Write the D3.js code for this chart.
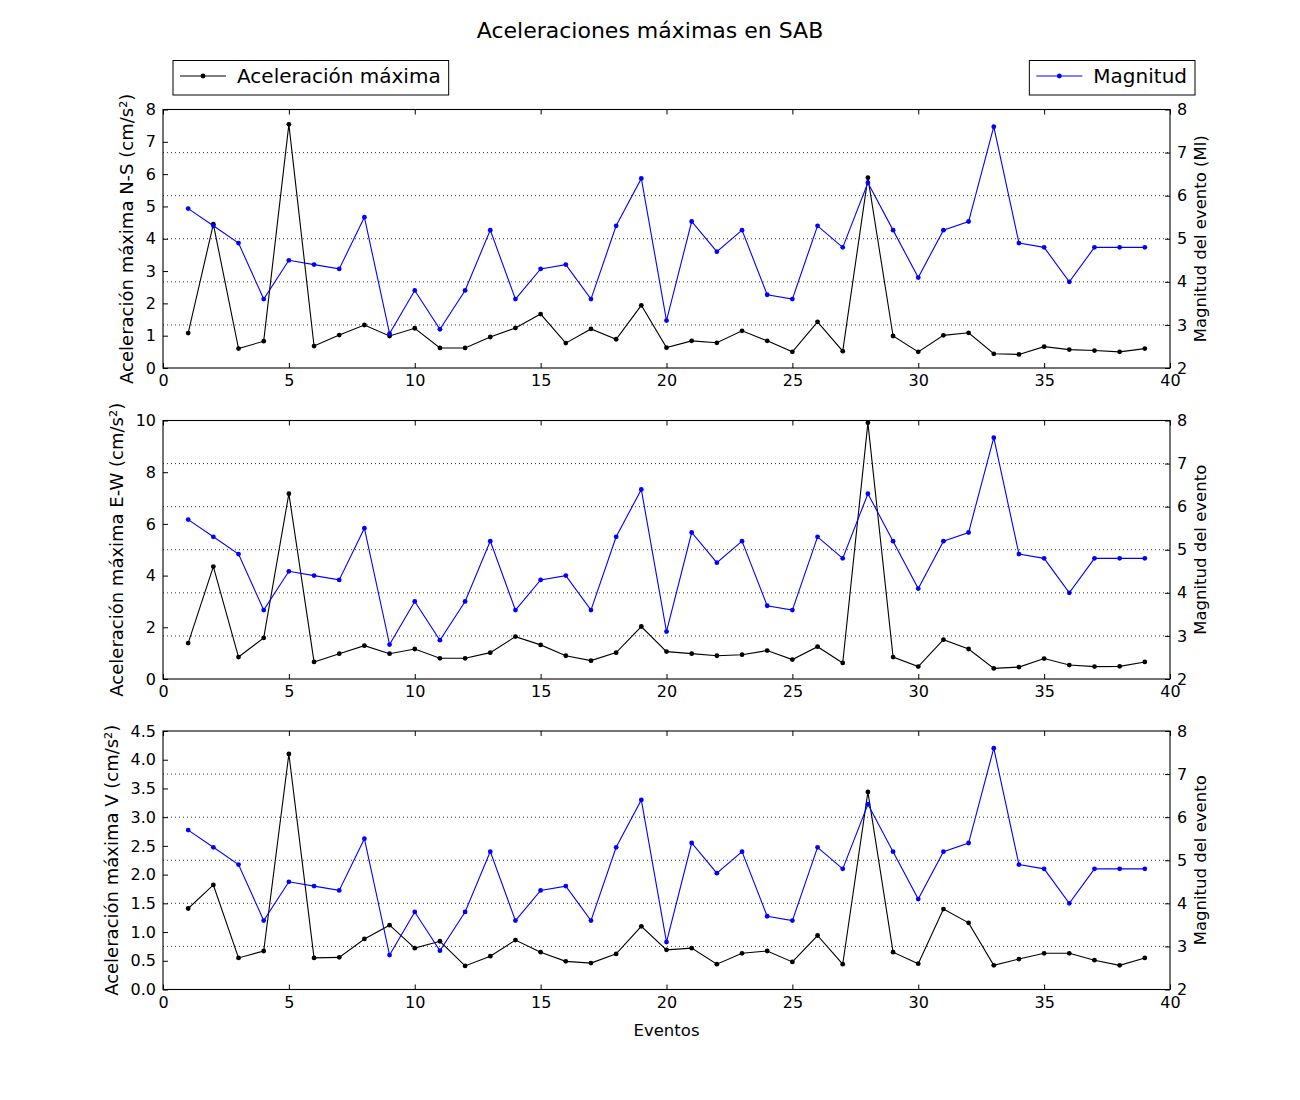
<!DOCTYPE html>
<html>
<head>
<meta charset="utf-8">
<script src="https://cdn.jsdelivr.net/npm/d3@7"></script>
<style>
  body { margin: 0; background: #fff; }
  svg { display: block; font-family: "DejaVu Sans", sans-serif; }
</style>
</head>
<body>
<svg id="chart" width="1300" height="1100"></svg>
<script>
// ---------- DATA ----------
const eventos = d3.range(1, 40);
const magnitud = [5.7, 5.3, 4.9, 3.6, 4.5, 4.4, 4.3, 5.5, 2.8, 3.8,
                  2.9, 3.8, 5.2, 3.6, 4.3, 4.4, 3.6, 5.3, 6.4, 3.1,
                  5.4, 4.7, 5.2, 3.7, 3.6, 5.3, 4.8, 6.3, 5.2, 4.1,
                  5.2, 5.4, 7.6, 4.9, 4.8, 4.0, 4.8, 4.8, 4.8];
const accNS = [1.08, 4.45, 0.60, 0.83, 7.54, 0.68, 1.02, 1.33, 0.99, 1.23,
               0.62, 0.62, 0.96, 1.24, 1.67, 0.77, 1.21, 0.89, 1.94, 0.63,
               0.84, 0.78, 1.15, 0.84, 0.50, 1.43, 0.52, 5.89, 0.99, 0.50,
               1.01, 1.09, 0.44, 0.42, 0.66, 0.57, 0.54, 0.50, 0.60];
const accEW = [1.39, 4.35, 0.85, 1.59, 7.17, 0.66, 0.98, 1.29, 0.98, 1.16,
               0.80, 0.80, 1.02, 1.64, 1.32, 0.90, 0.71, 1.02, 2.03, 1.06,
               0.98, 0.90, 0.94, 1.10, 0.75, 1.25, 0.62, 9.91, 0.85, 0.48,
               1.52, 1.16, 0.41, 0.46, 0.79, 0.54, 0.48, 0.49, 0.66];
const accV  = [1.41, 1.82, 0.55, 0.67, 4.10, 0.55, 0.56, 0.88, 1.12, 0.72,
               0.84, 0.41, 0.58, 0.86, 0.65, 0.49, 0.46, 0.62, 1.10, 0.69,
               0.72, 0.44, 0.63, 0.67, 0.48, 0.94, 0.44, 3.44, 0.65, 0.45,
               1.40, 1.16, 0.42, 0.53, 0.63, 0.63, 0.51, 0.42, 0.55];

const titulo = "Aceleraciones máximas en SAB";
const xTicks = [0, 5, 10, 15, 20, 25, 30, 35, 40];
const magTicks = [2, 3, 4, 5, 6, 7, 8];
const panels = [
  { values: accNS, max: 8, ticks: [0,1,2,3,4,5,6,7,8], fmt: d3.format("d"),
    label: "Aceleración máxima N-S (cm/s²)", rlabel: "Magnitud del evento (Ml)" },
  { values: accEW, max: 10, ticks: [0,2,4,6,8,10], fmt: d3.format("d"),
    label: "Aceleración máxima E-W (cm/s²)", rlabel: "Magnitud del evento" },
  { values: accV, max: 4.5, ticks: [0,0.5,1,1.5,2,2.5,3,3.5,4,4.5], fmt: d3.format(".1f"),
    label: "Aceleración máxima V (cm/s²)", rlabel: "Magnitud del evento" }
];

// ---------- LAYOUT ----------
const svg = d3.select("#chart");
const L = 163, R = 1170;
const tops = [109.5, 420.5, 731], H = 258.5;
const tickFont = 16;

const x = d3.scaleLinear().domain([0, 40]).range([L, R]);

svg.append("text").attr("x", 650).attr("y", 38).attr("text-anchor", "middle")
  .attr("font-size", 22).text(titulo);

panels.forEach((p, i) => {
  const top = tops[i], bot = top + H;
  const y = d3.scaleLinear().domain([0, p.max]).range([bot, top]);
  const y2 = d3.scaleLinear().domain([2, 8]).range([bot, top]);
  const g = svg.append("g");

  // grid (from right axis)
  g.append("g").selectAll("line").data(magTicks.slice(1, -1)).join("line")
    .attr("x1", L).attr("x2", R).attr("y1", d => y2(d)).attr("y2", d => y2(d))
    .attr("stroke", "#000").attr("stroke-width", 0.8).attr("stroke-dasharray", "1,3");

  // lines
  const lineAcc = d3.line().x((d, j) => x(eventos[j])).y(d => y(d));
  const lineMag = d3.line().x((d, j) => x(eventos[j])).y(d => y2(d));
  g.append("path").datum(p.values).attr("d", lineAcc).attr("fill", "none")
    .attr("stroke", "#000").attr("stroke-width", 1.1);
  g.append("g").selectAll("circle").data(p.values).join("circle")
    .attr("cx", (d, j) => x(eventos[j])).attr("cy", d => y(d)).attr("r", 2.4).attr("fill", "#000");
  g.append("path").datum(magnitud).attr("d", lineMag).attr("fill", "none")
    .attr("stroke", "#0000ff").attr("stroke-width", 1.1);
  g.append("g").selectAll("circle").data(magnitud).join("circle")
    .attr("cx", (d, j) => x(eventos[j])).attr("cy", d => y2(d)).attr("r", 2.4).attr("fill", "#0000ff");

  // axes
  const ax = (sel) => sel.select(".domain").remove();
  const bottom = g.append("g").attr("transform", `translate(0,${bot})`)
    .call(d3.axisBottom(x).tickValues(xTicks).tickFormat(d3.format("d")).tickSizeInner(-5).tickPadding(7));
  const topAx = g.append("g").attr("transform", `translate(0,${top})`)
    .call(d3.axisTop(x).tickValues(xTicks).tickFormat("").tickSizeInner(-5).tickSizeOuter(0));
  const left = g.append("g").attr("transform", `translate(${L},0)`)
    .call(d3.axisLeft(y).tickValues(p.ticks).tickFormat(p.fmt).tickSizeInner(-5).tickPadding(7));
  const right = g.append("g").attr("transform", `translate(${R},0)`)
    .call(d3.axisRight(y2).tickValues(magTicks).tickFormat(d3.format("d")).tickSizeInner(-5).tickPadding(7));
  [bottom, topAx, left, right].forEach(a => {
    ax(a);
    a.selectAll("text").attr("font-size", tickFont).attr("fill", "#000")
      .attr("font-family", "DejaVu Sans");
    a.selectAll("line").attr("stroke", "#000");
  });
  g.append("rect").attr("x", L).attr("y", top).attr("width", R - L).attr("height", H)
    .attr("fill", "none").attr("stroke", "#000").attr("stroke-width", 1.1);

  // left label placed beyond tick labels
  let minX = Infinity;
  left.selectAll("text").each(function () {
    const b = this.getBBox();
    minX = Math.min(minX, b.x + L);
  });
  svg.append("text").attr("transform", `translate(${minX - 13},${(top + bot) / 2}) rotate(-90)`)
    .attr("text-anchor", "middle").attr("font-size", 18).text(p.label);
  let maxX = -Infinity;
  right.selectAll("text").each(function () {
    const b = this.getBBox();
    maxX = Math.max(maxX, b.x + b.width + R);
  });
  svg.append("text").attr("transform", `translate(${maxX + 19},${(top + bot) / 2}) rotate(-90)`)
    .attr("text-anchor", "middle").attr("font-size", 16.5).text(p.rlabel);

  if (i === 2) {
    svg.append("text").attr("x", (L + R) / 2).attr("y", bot + 46).attr("text-anchor", "middle")
      .attr("font-size", 16.5).text("Eventos");
  }
});

// ---------- LEGENDS ----------
function legend(x0, label, color) {
  const g = svg.append("g");
  const t = g.append("text").attr("x", x0 + 64).attr("y", 83).attr("font-size", 20).text(label);
  const w = t.node().getComputedTextLength();
  g.insert("rect", "text").attr("x", x0).attr("y", 60.5).attr("width", w + 72).attr("height", 34.5)
    .attr("fill", "#fff").attr("stroke", "#000").attr("stroke-width", 1);
  g.append("line").attr("x1", x0 + 7).attr("x2", x0 + 53).attr("y1", 76).attr("y2", 76)
    .attr("stroke", color).attr("stroke-width", 1.1);
  g.append("circle").attr("cx", x0 + 30).attr("cy", 76).attr("r", 2.4).attr("fill", color);
  return w;
}
legend(173, "Aceleración máxima", "#000");
// right legend right-aligned at 1195
const tmp = svg.append("text").attr("font-size", 20).text("Magnitud");
const wm = tmp.node().getComputedTextLength();
tmp.remove();
legend(1195 - (wm + 72), "Magnitud", "#0000ff");
</script>
</body>
</html>
